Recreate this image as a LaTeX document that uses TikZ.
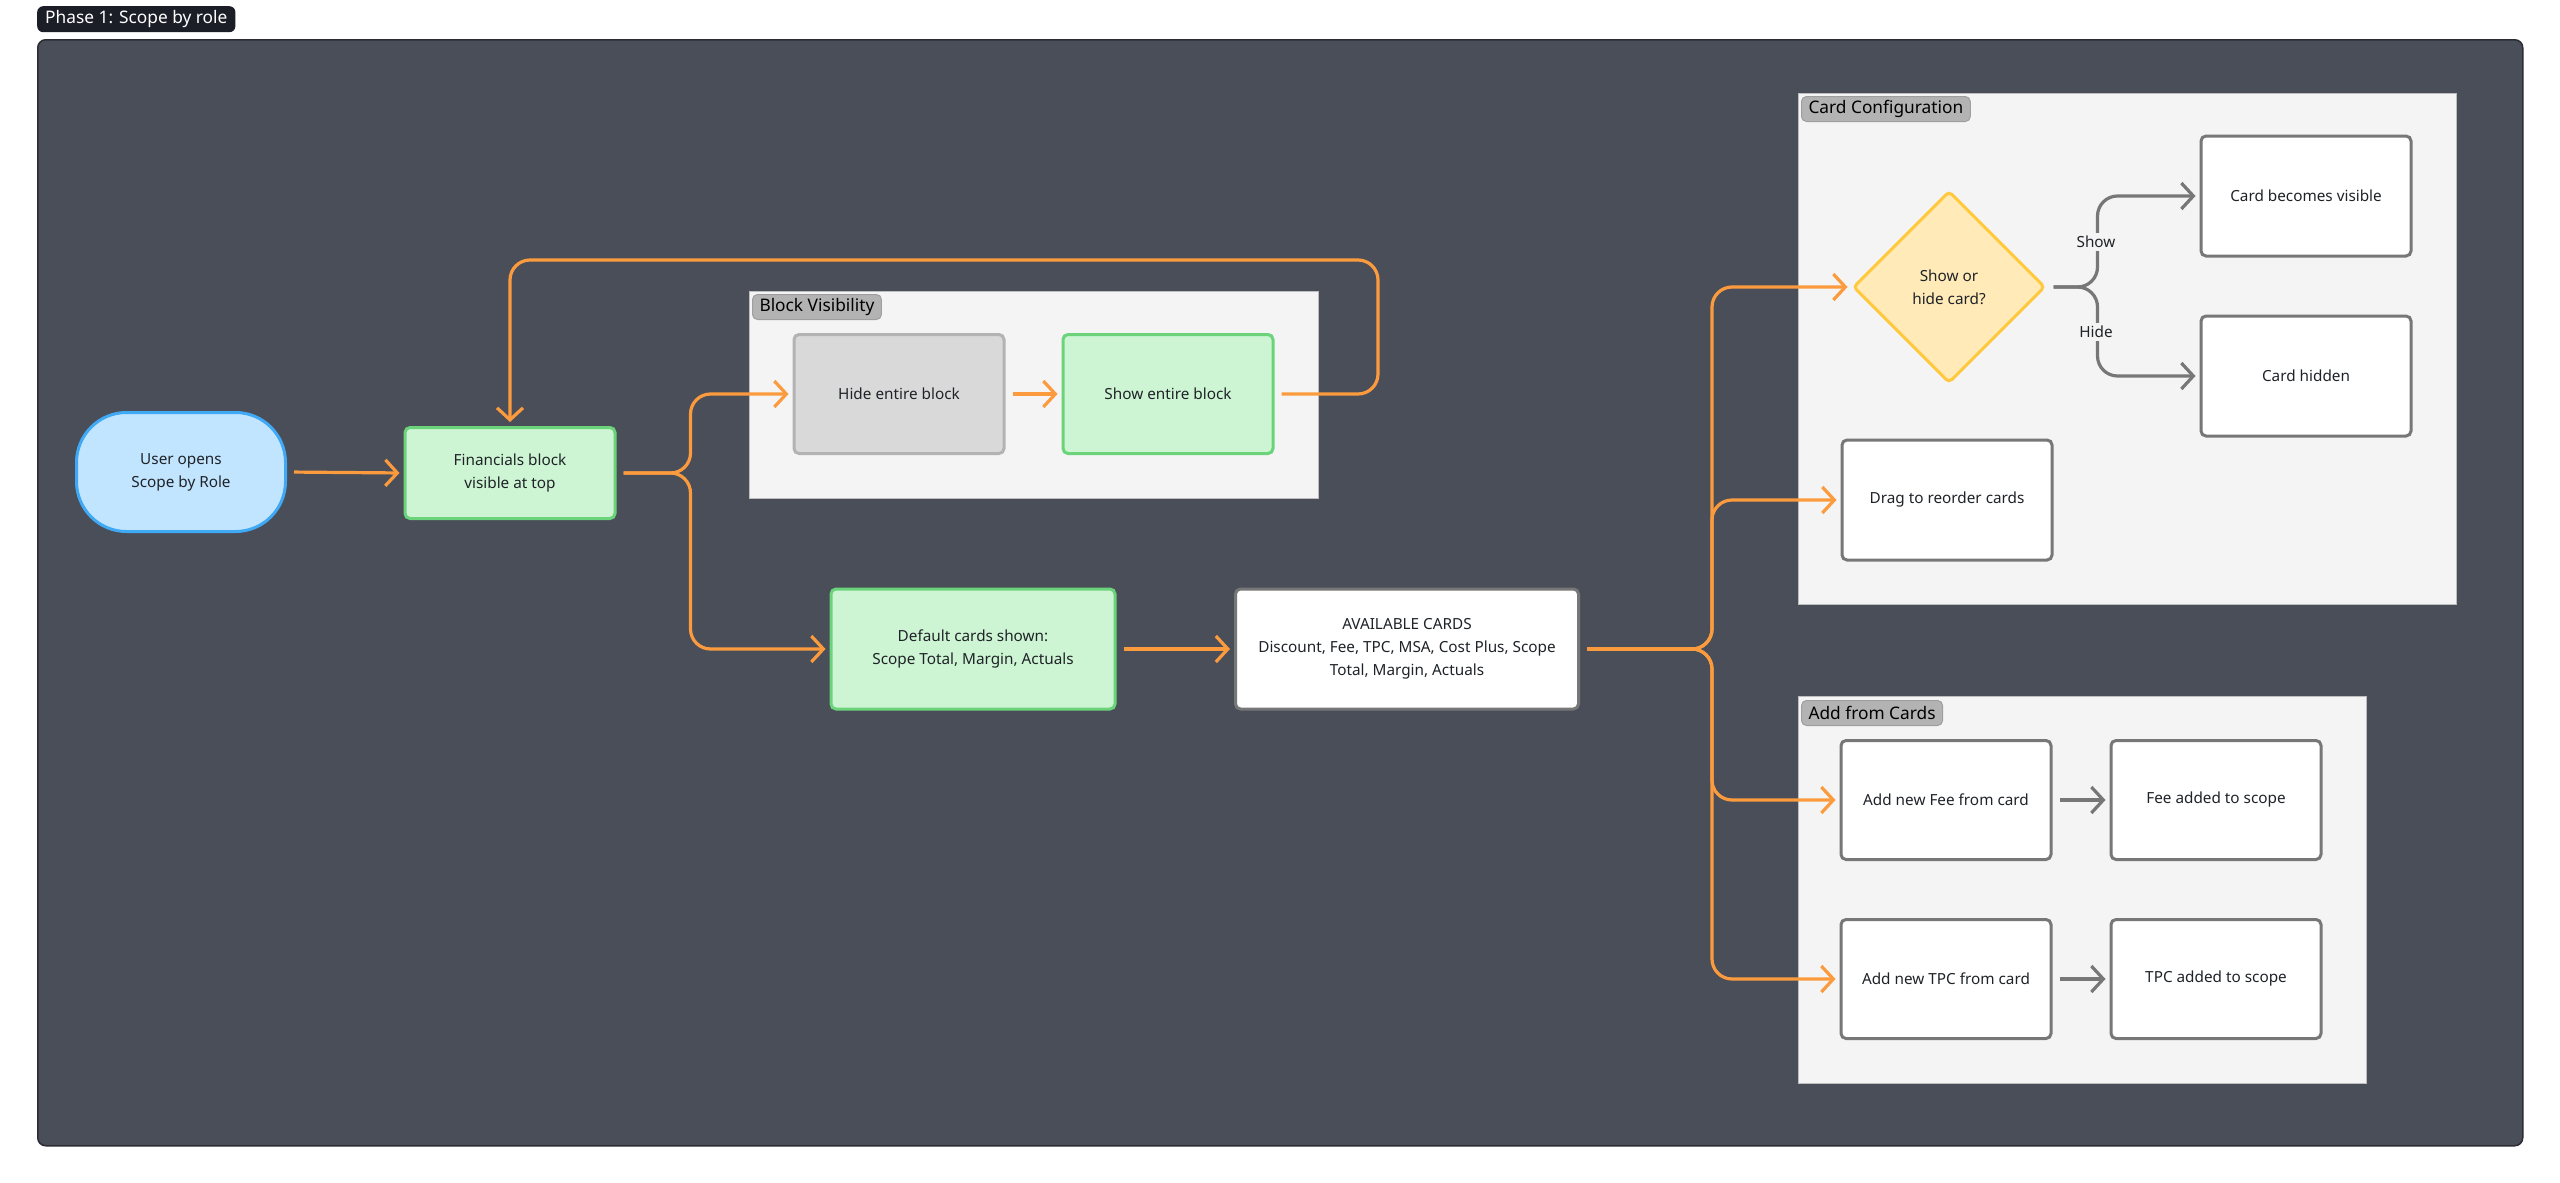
\documentclass[tikz,border=0pt]{standalone}
\usepackage{fontspec}
\setmainfont{Noto Sans}
\usetikzlibrary{arrows.meta,shapes.geometric}
\definecolor{framefill}{HTML}{4A4E59}
\definecolor{frameline}{HTML}{2B2D33}
\definecolor{groupfill}{HTML}{F4F4F4}
\definecolor{groupline}{HTML}{BDBDBD}
\definecolor{tabfill}{HTML}{B3B3B3}
\definecolor{tabline}{HTML}{9E9E9E}
\definecolor{orangeline}{HTML}{FC9B3E}
\definecolor{grayline}{HTML}{777777}
\definecolor{greenfill}{HTML}{CDF5D3}
\definecolor{greenline}{HTML}{6BD47A}
\definecolor{hidefill}{HTML}{D9D9D9}
\definecolor{hideline}{HTML}{B3B3B3}
\definecolor{bluefill}{HTML}{C2E5FF}
\definecolor{blueline}{HTML}{3FA9F5}
\definecolor{diafill}{HTML}{FFEAB8}
\definecolor{dialine}{HTML}{FFC83D}
\definecolor{txt}{HTML}{1F2328}
\definecolor{phasefill}{HTML}{1B1E27}
\begin{document}
\begin{tikzpicture}[x=1pt,y=-1pt,
  box/.style={draw, rounded corners=5pt, line width=3pt, minimum width=210pt, minimum height=120pt, align=center, inner sep=4pt, font=\fontsize{15.3}{23}\selectfont, text=txt},
  whitebox/.style={box, fill=white, draw=grayline},
  greenbox/.style={box, fill=greenfill, draw=greenline},
  group/.style={draw=groupline, fill=groupfill, line width=1.2pt, anchor=north west, inner sep=0pt},
  grouptab/.style={draw=tabline, fill=tabfill, line width=1pt, rounded corners=5pt, anchor=north west, inner xsep=7pt, inner ysep=0pt, minimum height=25pt, font=\fontsize{17.3}{20}\selectfont, text=black},
  oarrow/.style={draw=orangeline, line width=3.2pt, rounded corners=20pt, shorten <=7pt, shorten >=4pt, -{Straight Barb[length=12pt,width=26pt]}},
  garrow/.style={draw=grayline, line width=3.2pt, rounded corners=20pt, shorten <=7pt, shorten >=4pt, -{Straight Barb[length=12pt,width=26pt]}},
  branchlabel/.style={fill=groupfill, inner sep=3pt, font=\fontsize{15.3}{18}\selectfont, text=txt}
]
\useasboundingbox (0,0) rectangle (2560,1183);
\fill[white] (0,0) rectangle (2560,1183);

% phase label and frame
\node[fill=phasefill, rounded corners=6pt, anchor=north west, inner xsep=8pt, inner ysep=0pt, minimum height=26pt, text=white, font=\fontsize{17.3}{20}\selectfont] (phase) at (37,6) {Phase 1: Scope by role};
\node[draw=frameline, fill=framefill, line width=1.5pt, rounded corners=8pt, anchor=north west, minimum width=2485pt, minimum height=1106pt, inner sep=0pt] (frame) at (37,39) {};

% groups
\node[group, minimum width=569pt, minimum height=207pt] (bv) at (749,291) {};
\node[grouptab] (bvtab) at (752,294) {Block Visibility};
\node[group, minimum width=658pt, minimum height=511pt] (cc) at (1798,93) {};
\node[grouptab] (cctab) at (1801,96) {Card Configuration};
\node[group, minimum width=568pt, minimum height=387pt] (af) at (1798,696) {};
\node[grouptab] (aftab) at (1801,700) {Add from Cards};

% nodes
\node[box, fill=bluefill, draw=blueline, rounded corners=50pt, minimum width=209pt, minimum height=119pt] (start) at (181,472) {User opens\\Scope by Role};
\node[greenbox, minimum height=91pt] (fin) at (510,473) {Financials block\\visible at top};
\node[box, fill=hidefill, draw=hideline, minimum height=119pt] (hide) at (899,394) {Hide entire block};
\node[greenbox, minimum height=119pt] (show) at (1168,394) {Show entire block};
\node[greenbox, minimum width=284pt] (default) at (973,649) {Default cards shown:\\Scope Total, Margin, Actuals};
\node[whitebox, minimum width=343pt] (avail) at (1407,649) {AVAILABLE CARDS\\Discount, Fee, TPC, MSA, Cost Plus, Scope\\Total, Margin, Actuals};
\node[diamond, draw=dialine, fill=diafill, line width=3pt, rounded corners=4pt, minimum width=192pt, minimum height=192pt, inner sep=0pt, align=center, font=\fontsize{15.3}{23}\selectfont, text=txt] (dia) at (1949,287) {Show or\\hide card?};
\node[whitebox] (cv) at (2306,196) {Card becomes visible};
\node[whitebox] (ch) at (2306,376) {Card hidden};
\node[whitebox] (drag) at (1947,500) {Drag to reorder cards};
\node[whitebox, minimum height=119pt] (addfee) at (1946,800) {Add new Fee from card};
\node[whitebox, minimum height=119pt] (feeadded) at (2216,800) {Fee added to scope};
\node[whitebox, minimum height=119pt] (addtpc) at (1946,979) {Add new TPC from card};
\node[whitebox, minimum height=119pt] (tpcadded) at (2216,979) {TPC added to scope};

% connectors
\draw[oarrow] (start.east) -- (fin.west);
\draw[oarrow] (fin.east) -- ++(74,0) |- (hide.west);
\draw[oarrow] (fin.east) -- ++(74,0) |- (default.west);
\draw[oarrow] (hide.east) -- (show.west);
\draw[oarrow] (show.east) -| (1378,260) -| (fin.north);
\draw[oarrow] (default.east) -- (avail.west);
\draw[oarrow] (avail.east) -- ++(132,0) |- (dia.west);
\draw[oarrow] (avail.east) -- ++(132,0) |- (drag.west);
\draw[oarrow] (avail.east) -- ++(132,0) |- (addfee.west);
\draw[oarrow] (avail.east) -- ++(132,0) |- (addtpc.west);
\draw[garrow] (dia.east) -- ++(51,0) |- (cv.west);
\draw[garrow] (dia.east) -- ++(51,0) |- (ch.west);
\draw[garrow] (addfee.east) -- (feeadded.west);
\draw[garrow] (addtpc.east) -- (tpcadded.west);

% branch labels
\node[branchlabel] (lshow) at (2096,242) {Show};
\node[branchlabel] (lhide) at (2096,332) {Hide};
\end{tikzpicture}
\end{document}
